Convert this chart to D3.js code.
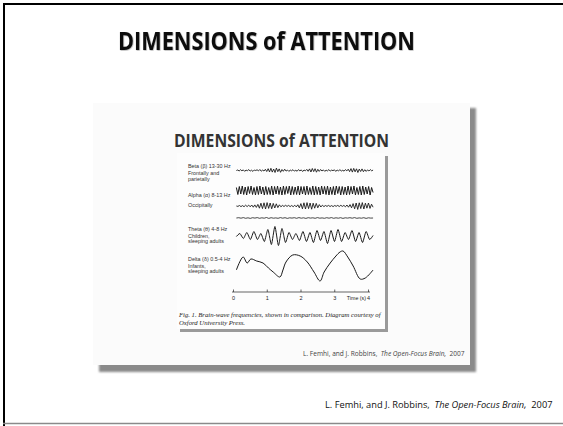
<!DOCTYPE html>
<html><head><meta charset="utf-8">
<script src="https://d3js.org/d3.v7.min.js"></script>
<style>html,body{margin:0;padding:0;background:#fff;overflow:hidden}</style>
</head><body>
<script>
// ---------- DATA ----------
const slideTitle = "DIMENSIONS of ATTENTION";
const figTitle = "DIMENSIONS of ATTENTION";
const waveLabels = [
  ["Beta (β)  13-30 Hz", "Frontally and", "parietally"],
  ["Alpha (α)  8-13 Hz", "Occipitally"],
  ["Theta (θ)  4-8 Hz", "Children,", "sleeping adults"],
  ["Delta (δ)  0.5-4 Hz", "Infants,", "sleeping adults"]
];
const timeTicks = [0, 1, 2, 3, 4];
const timeLabel = "Time (s)";
const captionLines = ["Fig. 1. Brain-wave frequencies, shown in comparison. Diagram courtesy of", "Oxford University Press."];
const citeParts = [["L. Femhi, and J. Robbins,  ", false], ["The Open-Focus Brain,", true], ["  2007", false]];

// sampled traces (arbitrary amplitude units), evenly spaced from 0.1 s to 4.15 s
const beta = [0,0.5,-0.5,0.8,-0.3,0.6,-0.8,0.4,-0.2,0.9,-0.6,0.3,-0.9,0.5,0,0.7,-0.4,1.0,-0.7,0.4,
 -0.5,1.2,-1.0,1.8,-1.4,2.2,-1.6,1.5,-2.0,2.4,-1.2,1.6,-1.8,1.0,-0.8,1.3,-0.6,0.5,-0.9,0.4,
 -0.3,0.8,-0.6,0.2,-0.7,0.9,-0.4,0.6,-1.0,0.5,-0.3,1.1,-0.8,1.6,-1.5,2.0,-1.1,1.8,-1.7,1.2,
 -0.9,1.0,-0.5,0.6,-0.8,0.3,-0.4,0.9,-0.6,0.4,-0.2,0.7,-0.9,0.5,-0.3,0.8,-0.5,0.2,-0.6,0.9,
 -0.4,1.3,-1.1,1.9,-1.6,2.1,-1.3,1.7,-2.0,1.4,-1.0,1.6,-1.2,0.8,-0.9,0.6,-0.5,0.9,-0.3,0.4];
const alphaFront = [3,-4,4,-3.5,4.5,-4,3.5,-4.5,4,-3,4.5,-4,3,-4.5,4,-4,4.5,-3.5,3.5,-4.5,
 4,-4,3,-4,4.5,-4.5,4,-3.5,4.5,-4,3.5,-4.5,4.5,-4,4,-3,4.5,-4.5,4,-4,
 3.5,-4,4.5,-4.5,4,-3.5,4,-4.5,4.5,-4,3,-4,4.5,-4.5,4,-4,3.5,-4.5,4.5,-3.5,
 4,-4,4.5,-4.5,3.5,-4,4,-4.5,4.5,-3,4,-4.5,4,-4,3.5,-4.5,4.5,-4,4,-3.5,
 4.5,-4.5,3,-4,4,-4.5,4.5,-4,3.5,-3.5,4,-4.5,3,-2];
const alphaOcc = [0,-0.4,0.5,-0.6,0.4,-0.7,0.8,-0.6,0.9,-0.8,1.0,-1.2,1.1,-1.4,1.6,
 -2.2,2.8,-2.6,3.2,-3.0,3.4,-2.4,3.0,-2.8,2.6,-2.0,2.2,-1.6,1.2,
 -0.8,0.6,-0.5,0.7,-0.4,0.6,-0.6,0.5,-0.7,0.8,-0.9,1.2,
 -1.8,2.4,-2.8,3.2,-3.0,3.4,-2.6,3.0,-3.2,2.8,-2.2,2.6,-1.8,1.4,-1.0,
 0.8,-0.6,0.5,-0.4,0.6,-0.5,0.4,-0.6,0.5,-0.3,0.6,-0.5,0.7,-0.4,0.6,-0.8,1.0,-1.2,1.4,
 -1.8,2.4,-2.8,3.0,-3.4,3.2,-2.6,3.4,-3.0,2.8,-2.2,3.0,-2.4,1.8,-1.2];
const flat = [0,0.3,-0.2,0.4,-0.3,0.2,-0.4,0.3,-0.1,0.4,-0.3,0.2,-0.2,0.5,-0.4,0.3,-0.2,0.1,-0.3,0.4,
 -0.2,0.3,-0.4,0.2,-0.1,0.3,-0.3,0.4,-0.2,0.2,-0.4,0.3,-0.1,0.2,-0.3,0.4,-0.2,0.1,-0.3,0.3,
 -0.2,0.4,-0.3,0.2,-0.2,0.3,-0.4,0.2,-0.1,0.3,-0.2,0.4,-0.3,0.1,-0.2,0.3,-0.4,0.2,-0.1,0];
const theta = [0,3,-2,4,-3,5,-3,3,-5,7,-8,10,-9,8,-6,4,-3,3,-4,5,-5,4,-6,6,-4,5,-7,6,-5,7,-5,4,-3,6,-5,4,-6,5,-3,1];
const deltaT = [0.1,0.3,0.42,0.53,0.7,0.89,1.05,1.19,1.39,1.48,1.57,1.77,1.99,2.2,2.4,2.58,2.7,2.88,3.05,3.17,3.26,3.4,3.56,3.77,3.92,4.15];
const deltaV = [-4,9,3,7,5,3,-2,-6,-11,-4,4,11,10,4,-6,-15,-6,3,10,14,15,9,0,-13,-12,-4];

// ---------- DRAW ----------
const W = 563, H = 426;
const svg = d3.select("body").append("svg").attr("width", W).attr("height", H);
const defs = svg.append("defs");
defs.append("filter").attr("id","blur1").attr("x","-10%").attr("y","-10%").attr("width","120%").attr("height","120%")
  .append("feGaussianBlur").attr("stdDeviation", 1.2);
defs.append("filter").attr("id","blur2").attr("x","-10%").attr("y","-10%").attr("width","120%").attr("height","120%")
  .append("feGaussianBlur").attr("stdDeviation", 0.7);
defs.append("filter").attr("id","tshadow")
  .append("feDropShadow").attr("dx",0.6).attr("dy",0.6).attr("stdDeviation",0.6).attr("flood-color","#000").attr("flood-opacity",0.35);

function fit(sel, width) {
  const fs = parseFloat(sel.attr("font-size"));
  const w = sel.node().getComputedTextLength();
  sel.attr("font-size", fs * width / w);
}

// slide frame
svg.append("line").attr("x1",3).attr("x2",W).attr("y1",4).attr("y2",4).attr("stroke","#000").attr("stroke-width",2);
svg.append("line").attr("x1",4).attr("x2",4).attr("y1",3).attr("y2",H).attr("stroke","#000").attr("stroke-width",2);
svg.append("line").attr("x1",3).attr("x2",W).attr("y1",423.5).attr("y2",423.5).attr("stroke","#8a8a8a").attr("stroke-width",1.5);

// slide title (condensed to mimic a narrow bold face)
svg.append("text").attr("x",266.5).attr("y",50).attr("text-anchor","middle")
  .attr("font-family","Open Sans").attr("font-weight","bold").attr("font-size",24.5).attr("fill","#111")
  .attr("textLength",297).attr("lengthAdjust","spacingAndGlyphs")
  .attr("filter","url(#tshadow)").text(slideTitle);

// outer picture
svg.append("rect").attr("x",99).attr("y",108).attr("width",377).attr("height",264).attr("fill","#8a8a8a").attr("filter","url(#blur1)");
svg.append("rect").attr("x",93).attr("y",103).attr("width",377).attr("height",262).attr("fill","#fbfbfb");

svg.append("text").attr("x",281.5).attr("y",147).attr("text-anchor","middle")
  .attr("font-family","Open Sans").attr("font-weight","bold").attr("font-size",18).attr("fill","#333")
  .attr("textLength",215).attr("lengthAdjust","spacingAndGlyphs").text(figTitle);

// scanned page
svg.append("rect").attr("x",180).attr("y",156).attr("width",208).attr("height",176).attr("fill","#9a9a9a").attr("filter","url(#blur2)");
svg.append("rect").attr("x",177).attr("y",153).attr("width",208).attr("height",176).attr("fill","#fdfdfd");

// labels
const labelBlocks = [[168,175,180.5],[197,207],[231,237.5,243],[261,267.5,273]];
const lab = svg.append("g").attr("font-family","Liberation Sans, Arial").attr("font-size",5.4).attr("fill","#333");
waveLabels.forEach((lines, i) => {
  lines.forEach((s, j) => {
    lab.append("text").attr("x",188).attr("y",labelBlocks[i][j]).text(s);
  });
});

// traces
const x = d3.scaleLinear().domain([0,4]).range([233,368]);
const t0 = 0.1, tEnd = 4.15;
function sampled(vals) {
  const step = (tEnd - t0) / (vals.length - 1);
  return vals.map((v, i) => [t0 + i * step, v]);
}
const traces = [
  {data: sampled(beta), base: 170.5, curve: d3.curveLinear, w: 0.9},
  {data: sampled(alphaFront), base: 190.5, curve: d3.curveLinear, w: 1.0},
  {data: sampled(alphaOcc), base: 206, curve: d3.curveLinear, w: 0.9},
  {data: sampled(flat), base: 218, curve: d3.curveLinear, w: 0.8},
  {data: sampled(theta), base: 236.5, curve: d3.curveCardinal.tension(0.4), w: 1.0},
  {data: deltaT.map((t, i) => [t, deltaV[i]]), base: 266, curve: d3.curveCatmullRom, w: 1.0}
];
traces.forEach(tr => {
  const y = d3.scaleLinear().domain([-10,10]).range([tr.base + 10, tr.base - 10]);
  const line = d3.line().x(d => x(d[0])).y(d => y(d[1])).curve(tr.curve);
  svg.append("path").attr("d", line(tr.data)).attr("fill","none").attr("stroke","#1a1a1a").attr("stroke-width",tr.w).attr("stroke-linejoin","round");
});

// time axis
const ax = svg.append("g").attr("transform","translate(0,292)")
  .call(d3.axisBottom(x).tickValues(timeTicks).tickFormat(d3.format("d")).tickSizeInner(-2.5).tickSizeOuter(0).tickPadding(4.5));
ax.select(".domain").attr("stroke","#222").attr("stroke-width",0.7).attr("d","M232,0H370");
ax.selectAll(".tick line").attr("stroke","#222").attr("stroke-width",0.7);
ax.selectAll(".tick text").attr("font-family","Liberation Sans, Arial").attr("font-size",5.5).attr("fill","#222");
svg.append("text").attr("x",x(4)-2).attr("y",299.5).attr("text-anchor","end")
  .attr("font-family","Liberation Sans, Arial").attr("font-size",5.3).attr("fill","#222").text(timeLabel);

// caption
const cap1 = svg.append("text").attr("x",179).attr("y",316.5).attr("font-family","Liberation Serif")
  .attr("font-style","italic").attr("font-size",7.5).attr("fill","#1a1a1a").text(captionLines[0]);
fit(cap1, 202);
svg.append("text").attr("x",179).attr("y",325).attr("font-family","Liberation Serif")
  .attr("font-style","italic").attr("font-size",cap1.attr("font-size")).attr("fill","#1a1a1a").text(captionLines[1]);

// citations
function cite(xr, yb, width, size, color) {
  const t = svg.append("text").attr("x",0).attr("y",yb).attr("font-family","Open Sans")
    .attr("font-size",size).attr("fill",color).attr("xml:space","preserve");
  citeParts.forEach(p => t.append("tspan").attr("font-style", p[1] ? "italic" : "normal").text(p[0]));
  fit(t, width);
  t.attr("x", xr - width);
}
cite(465, 355.5, 162, 6, "#444");
cite(553, 408, 228, 9, "#111");
</script>
</body></html>
